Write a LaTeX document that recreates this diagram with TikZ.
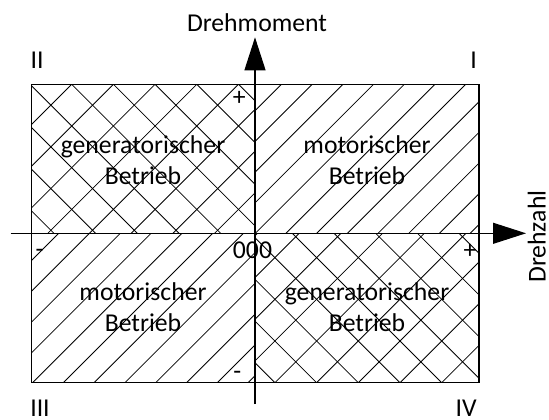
\documentclass[tikz,border=0pt]{standalone}
\usepackage{fontspec}
\setmainfont{Carlito}
\usepackage{tikz}
\usetikzlibrary{arrows.meta}

\begin{document}
\begin{tikzpicture}[x=1pt, y=-1pt,
        axis/.style={-{Triangle[length=33pt, width=21pt]}, line width=1.1pt},
        hatch/.style={line width=0.8pt},
        frame/.style={line width=1.1pt},
        region/.style={align=center, inner sep=0pt, font=\fontsize{25.7}{31}\selectfont},
        sign/.style={inner sep=0pt, anchor=base, font=\fontsize{25.7}{31}\selectfont}
    ]
        \useasboundingbox (0,0) rectangle (549,420);

        % Quadrant I: motorischer Betrieb
        \begin{scope}
            \clip (255,84.3) rectangle (479,233.3);
            \foreach \c in {335.1,365.8,...,720}
                \draw[hatch] (\c-233.3,233.3) -- (\c-84.3,84.3);
        \end{scope}

        % Quadrant II: generatorischer Betrieb
        \begin{scope}
            \clip (31.7,84.3) rectangle (255,233.3);
            \foreach \c in {114.3,156,...,495}
                \draw[hatch] (\c-233.3,233.3) -- (\c-84.3,84.3);
            \foreach \d in {-221.1,-179.4,...,175}
                \draw[hatch] (\d+84.3,84.3) -- (\d+233.3,233.3);
        \end{scope}

        % Quadrant III: motorischer Betrieb
        \begin{scope}
            \clip (31.7,233.3) rectangle (255,382.7);
            \foreach \c in {261.2,292,...,645}
                \draw[hatch] (\c-382.7,382.7) -- (\c-233.3,233.3);
        \end{scope}

        % Quadrant IV: generatorischer Betrieb
        \begin{scope}
            \clip (255,233.3) rectangle (479,382.7);
            \foreach \c in {449.1,490.8,...,870}
                \draw[hatch] (\c-382.7,382.7) -- (\c-233.3,233.3);
            \foreach \d in {-149.5,-107.8,...,250}
                \draw[hatch] (\d+233.3,233.3) -- (\d+382.7,382.7);
        \end{scope}

        \draw[frame] (31.7,84.3) rectangle (479,382.7);

        % Axes
        \coordinate (origin) at (255,233.3);
        \coordinate (mbottom) at (255,404);
        \coordinate (mtop) at (255,37.3);
        \coordinate (nleft) at (10.5,233.3);
        \coordinate (nright) at (526,233.3);
        \draw[axis] (mbottom) -- (mtop);
        \draw[axis] (nleft) -- (nright);

        \node[sign] (moment) at (257,31.5) {Drehmoment};
        \node[sign, rotate=90] (drehzahl) at (545.5,236.7) {Drehzahl};
        \node[sign] (zero) at (252.5,258.3) {000};

        % Signs on the axes
        \node[sign] (mplus) at (239.3,105.8) {+};
        \node[sign] (mminus) at (237.4,379) {-};
        \node[sign] (nminus) at (39.5,257) {-};
        \node[sign] (nplus) at (470,258.5) {+};

        % Quadrant numbers
        \node[sign] (q1) at (473.7,68.3) {I};
        \node[sign] (q2) at (37,68.3) {II};
        \node[sign] (q3) at (40,416.7) {III};
        \node[sign] (q4) at (466.2,416.7) {IV};

        % Operating modes
        \node[region] (modeI) at (367,160.5) {motorischer\\Betrieb};
        \node[region] (modeII) at (143,160.5) {generatorischer\\Betrieb};
        \node[region] (modeIII) at (143,307) {motorischer\\Betrieb};
        \node[region] (modeIV) at (367,307) {generatorischer\\Betrieb};
    \end{tikzpicture}
\end{document}
